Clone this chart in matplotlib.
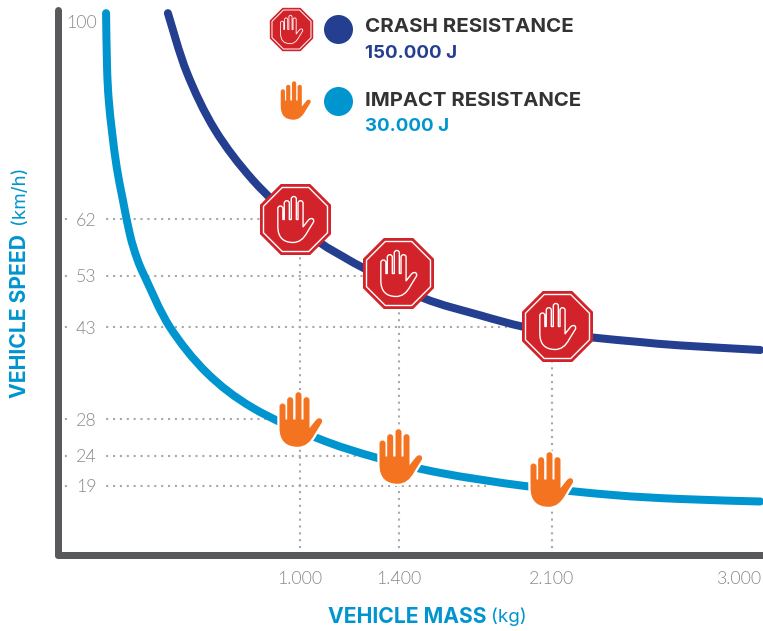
import numpy as np
import matplotlib
matplotlib.use("Agg")
import matplotlib.pyplot as plt
from matplotlib.path import Path
from matplotlib.patches import PathPatch

# ---- data ----
crash_mass = [453, 532, 648, 805, 1000, 1089, 1170, 1255, 1510, 1771, 1963, 2138, 2291, 2521, 2713, 3096]
crash_speed = [101.7, 90.2, 79.2, 69.5, 60.9, 58.05, 56.15, 54.3, 48.7, 45.3, 43.1, 42, 41.3, 40.55, 40, 39.25]
impact_mass = [197, 201, 208, 222, 241, 266, 296, 325, 358, 461, 615, 805, 1073, 1311, 1587, 1976, 2392, 2713, 3096]
impact_speed = [101.7, 91.3, 85, 78.7, 72, 65.8, 59.5, 55.8, 52.8, 43, 35.5, 29.8, 25.9, 23.7, 21.2, 19, 16.5, 15.4, 14.7]
stop_mass = [980, 1395, 2125]
stop_speed = [62, 53.4, 43.2]
hand_mass = [1000, 1405, 2095]
hand_speed = [28, 24, 20.2]
speed_ticks = [100, 62, 53, 43, 28, 24, 19]
speed_tick_labels = ["100", "62", "53", "43", "28", "24", "19"]
mass_ticks = [1000, 1400, 2100, 3000]
mass_tick_labels = ["1.000", "1.400", "2.100", "3.000"]
guide_mass = [1000, 1400, 2100]
guide_top = [62, 53, 43]
hguide_speed = [62, 53, 43, 28, 24, 19]
hguide_end = [980, 1395, 2125, 1000, 1400, 1800]

NAVY = "#243e90"; BLUE = "#0095cf"; RED = "#d2232a"; ORANGE = "#f47321"
DARK = "#333333"; AXIS = "#58595b"; GRAY = "#8a8a8a"; DOT = "#a8a8a8"
W, H = 763, 631
PX = 0.72  # points per pixel at dpi 100

fig = plt.figure(figsize=(W / 100, H / 100), dpi=100)
L, R_, T, B = 58.5, 763, 10, 554.5
ax = fig.add_axes([L / W, 1 - B / H, (R_ - L) / W, (B - T) / H])

# the picture's axes are schematic: ticks are not evenly spaced
mx_a = np.array([0, 1000, 1400, 2100, 3000, 3300])
mx_p = np.array([58.5, 300, 399, 552, 740, 803])
sp_a = np.array([0, 19, 24, 28, 43, 53, 62, 100, 110])
sp_p = -np.array([554.5, 486, 456, 419, 327, 276, 219, 22, -30])
ax.set_xscale("function", functions=(lambda v: np.interp(v, mx_a, mx_p), lambda p: np.interp(p, mx_p, mx_a)))
ax.set_yscale("function", functions=(lambda v: np.interp(v, sp_a, sp_p), lambda p: np.interp(p, sp_p, sp_a)))
ax.set_xlim(np.interp(L, mx_p, mx_a), np.interp(R_, mx_p, mx_a))
ax.set_ylim(0, np.interp(-T, sp_p, sp_a))

for s in ("top", "right"):
    ax.spines[s].set_visible(False)
for s in ("left", "bottom"):
    ax.spines[s].set_linewidth(7 * PX)
    ax.spines[s].set_color(AXIS)
    ax.spines[s].set_capstyle("round")

plt.rcParams["font.family"] = ["Lato", "DejaVu Sans"]
ax.set_xticks(mass_ticks, mass_tick_labels)
ax.set_yticks(speed_ticks, speed_tick_labels)
ax.minorticks_off()
ax.tick_params(axis="x", length=0, pad=16 * PX, labelsize=12.8, labelcolor=GRAY)
ax.tick_params(axis="y", length=0, pad=-38 * PX, labelsize=12.8, labelcolor=GRAY)
for t in ax.get_xticklabels() + ax.get_yticklabels():
    t.set_fontfamily("Lato"); t.set_fontweight(300)
for t in ax.get_yticklabels():
    t.set_bbox(dict(facecolor="white", edgecolor="none", pad=4))

dots = dict(color=DOT, lw=1.5, ls=(0, (1, 2.3)), zorder=1, dash_capstyle="butt")
for s, e in zip(hguide_speed, hguide_end):
    ax.plot([0, e], [s, s], **dots)
for m, top in zip(guide_mass, guide_top):
    ax.plot([m, m], [0, top], **dots)

def smooth_curve(mass, speed, color):
    """Draw a series as a smooth Bezier through its points, on the axes' own scales."""
    p = ax.transScale.transform(np.column_stack([mass, speed]))
    q = np.vstack([p[0], p, p[-1]])
    verts = [p[0]]
    codes = [Path.MOVETO]
    for i in range(1, len(q) - 2):
        verts += [q[i] + (q[i + 1] - q[i - 1]) / 6, q[i + 1] - (q[i + 2] - q[i]) / 6, q[i + 1]]
        codes += [Path.CURVE4] * 3
    ax.add_patch(PathPatch(Path(np.array(verts), codes), fill=False, edgecolor=color, lw=8 * PX,
                           capstyle="round", joinstyle="round", zorder=3, clip_on=False,
                           transform=ax.transLimits + ax.transAxes))

smooth_curve(crash_mass, crash_speed, NAVY)
smooth_curve(impact_mass, impact_speed, BLUE)

# ---- icons, as marker paths normalised to +-1 ----
OCT = Path([(-1, .414), (-.414, 1), (.414, 1), (1, .414), (1, -.414), (.414, -1), (-.414, -1), (-1, -.414), (-1, .414)], closed=True)

def hand_path():
    cx, cy, r = 123, 120, 82
    M, L_, C = Path.MOVETO, Path.LINETO, Path.CURVE3
    seq = [
        (M, 60, 145), (L_, 60, 81), (C, 60, 72), (C, 69, 72), (C, 78, 72), (C, 78, 81),
        (L_, 78, 120), (L_, 83, 120), (L_, 83, 62), (C, 83, 53), (C, 92, 53), (C, 101, 53), (C, 101, 62),
        (L_, 101, 120), (L_, 108, 120), (L_, 108, 47), (C, 108, 38), (C, 117, 38), (C, 126, 38), (C, 126, 47),
        (L_, 126, 120), (L_, 132, 120), (L_, 132, 62), (C, 132, 53), (C, 141, 53), (C, 150, 53), (C, 150, 62),
        (L_, 150, 146), (L_, 170, 121), (C, 178, 113), (C, 185, 118), (C, 191, 124), (C, 186, 131),
        (L_, 165, 165), (C, 146, 202), (C, 115, 202), (C, 60, 202), (C, 60, 145),
    ]
    return Path([((x - cx) / r, (cy - y) / r) for _, x, y in seq], [c for c, _, _ in seq])

HAND = hand_path()

def stop_icon(xs, ys, Rout, Rring, ring_w, Rhand, hand_w, **kw):
    base = dict(ls="none", zorder=4, clip_on=False, **kw)
    ax.plot(xs, ys, marker=OCT, ms=2 * Rout * PX, mfc=RED, mec="none", **base)
    ax.plot(xs, ys, marker=OCT, ms=2 * Rring * PX, mfc="none", mec="white", mew=ring_w, **base)
    ax.plot(xs, ys, marker=HAND, ms=2 * Rhand * PX, mfc="none", mec="white", mew=hand_w, **base)

stop_icon(stop_mass, stop_speed, 35.5, 32, 1.0, 23, 1.0)
ax.plot(hand_mass, hand_speed, ls="none", marker=HAND, ms=2 * 27.3 * PX, mfc="none", mec="white", mew=3.2, zorder=4, clip_on=False)
ax.plot(hand_mass, hand_speed, ls="none", marker=HAND, ms=2 * 27.3 * PX, mfc=ORANGE, mec="none", zorder=4, clip_on=False)

# ---- legend ----
def fx(p): return p / W
def fy(p): return 1 - p / H

tf = dict(transform=fig.transFigure)
stop_icon([fx(291)], [fy(29)], 21.7, 19.5, 0.7, 14.2, 0.6, **tf)
ax.plot([fx(295)], [fy(100)], ls="none", marker=HAND, ms=2 * 19.2 * PX, mfc=ORANGE, mec="none", zorder=4, clip_on=False, **tf)
ax.plot([fx(338)], [fy(29)], ls="none", marker="o", ms=29 * PX, mfc=NAVY, mec="none", zorder=4, clip_on=False, **tf)
ax.plot([fx(338)], [fy(101)], ls="none", marker="o", ms=29 * PX, mfc=BLUE, mec="none", zorder=4, clip_on=False, **tf)

FAM = "Inter"
for y, s, c, fs in [(27, "CRASH RESISTANCE", DARK, 14.8), (53.5, "150.000 J", NAVY, 13.5),
                    (101.5, "IMPACT RESISTANCE", DARK, 14.65), (126.5, "30.000 J", BLUE, 13.5)]:
    fig.text(fx(365), fy(y), s, color=c, fontsize=fs, fontweight="bold", family=FAM, va="center", ha="left")

# ---- axis titles ----
fig.text(fx(328), fy(617), "VEHICLE MASS", color=BLUE, fontsize=15.2, fontweight="bold", family=FAM, va="center", ha="left")
fig.text(fx(527), fy(617), "(kg)", color=BLUE, fontsize=13.5, family=FAM, va="center", ha="right")
fig.text(fx(20), fy(398), "VEHICLE SPEED", color=BLUE, fontsize=15.2, fontweight="bold", family=FAM, rotation=90, va="bottom", ha="center")
fig.text(fx(20), fy(166), "(km/h)", color=BLUE, fontsize=13.5, family=FAM, rotation=90, va="top", ha="center")

fig.savefig("out.png", dpi=100)
